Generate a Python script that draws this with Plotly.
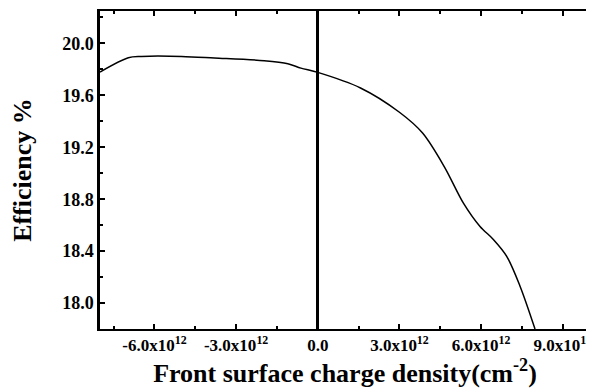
import plotly.graph_objects as go

# Front surface charge density (units of 1e12 cm^-2) and efficiency (%)
charge = [-8.0, -6.96, -6.48, -5.0, -3.8, -1.97, -1.1, -0.62, 0.0, 1.57,
          3.0, 3.85, 4.65, 5.35, 5.96, 6.45, 6.94, 7.43, 7.98]
efficiency = [19.78, 19.89, 19.90, 19.90, 19.888, 19.867, 19.844, 19.81, 19.777, 19.657,
              19.47, 19.31, 19.05, 18.77, 18.59, 18.49, 18.36, 18.13, 17.80]

x_tick_vals = [-6.0, -3.0, 0.0, 3.0, 6.0, 9.0]
x_tick_text = ["-6.0x10<sup>12</sup>", "-3.0x10<sup>12</sup>", "0.0",
               "3.0x10<sup>12</sup>", "6.0x10<sup>12</sup>", "9.0x10<sup>12</sup>"]
x_minor_vals = [-7.5, -4.5, -1.5, 1.5, 4.5, 7.5]
y_tick_vals = [18.0, 18.4, 18.8, 19.2, 19.6, 20.0]
y_tick_text = ["18.0", "18.4", "18.8", "19.2", "19.6", "20.0"]
y_minor_vals = [17.8, 18.2, 18.6, 19.0, 19.4, 19.8, 20.2]

font_family = "Liberation Serif"

fig = go.Figure()
fig.add_trace(go.Scatter(
    x=charge, y=efficiency, mode="lines",
    line=dict(color="black", width=1.5, shape="spline", smoothing=0.9),
    showlegend=False, hoverinfo="skip",
))

# the page body has an 8px margin, so the figure is sized to fill the rest
fig.update_layout(
    width=586, height=382,
    margin=dict(l=92, r=4, t=3, b=61),
    paper_bgcolor="white", plot_bgcolor="white",
    font=dict(family=font_family, color="black"),
    xaxis=dict(
        range=[-8.0, 10.0], automargin=False,
        tickmode="array", tickvals=x_tick_vals, ticktext=x_tick_text,
        ticks="inside", ticklen=5, tickwidth=2, tickcolor="black",
        minor=dict(tickmode="array", tickvals=x_minor_vals, ticks="inside",
                   ticklen=3, tickwidth=2, tickcolor="black"),
        showline=True, linewidth=2, linecolor="black", mirror="ticks",
        showgrid=False,
        zeroline=True, zerolinecolor="black", zerolinewidth=3,
        tickfont=dict(family=font_family, size=17, color="black", weight="bold"),
        title=dict(text="<b>Front surface charge density(cm<sup>-2</sup>)</b>",
                   font=dict(family=font_family, size=26, color="black"),
                   standoff=9),
    ),
    yaxis=dict(
        range=[17.8, 20.25], automargin=False,
        tickmode="array", tickvals=y_tick_vals, ticktext=y_tick_text,
        ticks="inside", ticklen=5, tickwidth=2, tickcolor="black",
        minor=dict(tickmode="array", tickvals=y_minor_vals, ticks="inside",
                   ticklen=3, tickwidth=2, tickcolor="black"),
        showline=True, linewidth=2.5, linecolor="black", mirror=True,
        showgrid=False, zeroline=False,
        tickfont=dict(family=font_family, size=18, color="black", weight="bold"),
        title=dict(text="<b>Efficiency %</b>",
                   font=dict(family=font_family, size=26, color="black"),
                   standoff=27),
    ),
)

fig.write_html("out.html")
